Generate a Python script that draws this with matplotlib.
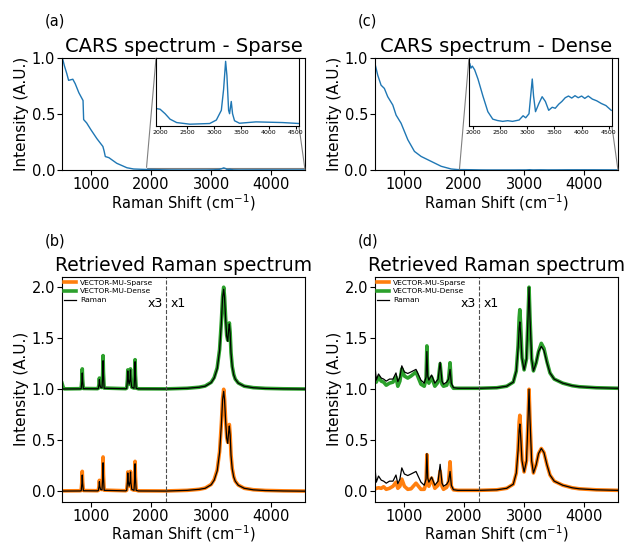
import numpy as np
import matplotlib
matplotlib.use("Agg")
import matplotlib.pyplot as plt
from mpl_toolkits.axes_grid1.inset_locator import mark_inset

# CARS spectrum, sparse sample (a)
cars_sparse_x = [527, 560, 600, 630, 700, 740, 800, 850, 870, 880, 930, 1000, 1100, 1200,
                 1220, 1240, 1300, 1430, 1600, 1711, 1850, 1927, 2000, 2092, 2183, 2305,
                 2549, 2915, 3037, 3129, 3171, 3208, 3232, 3263, 3281, 3312, 3336, 3372,
                 3464, 3769, 4256, 4560]
cars_sparse_y = [1.0, 0.93, 0.86, 0.80, 0.81, 0.77, 0.69, 0.64, 0.62, 0.45, 0.42, 0.36, 0.28, 0.21,
                 0.17, 0.12, 0.11, 0.06, 0.02, 0.009, 0.0062, 0.00512, 0.00492, 0.0036, 0.002, 0.001,
                 0.00052, 0.00072, 0.00174, 0.0046, 0.0108, 0.019, 0.0148, 0.0046, 0.0036, 0.0072,
                 0.0036, 0.00154, 0.0008, 0.0012, 0.001, 0.00072]

# CARS spectrum, dense sample (c)
cars_dense_x = [527, 567, 622, 677, 733, 817, 872, 955, 1067, 1177, 1288, 1455, 1622, 1788,
                1900, 1940, 1960, 1987, 2030, 2091, 2182, 2273, 2364, 2450, 2546, 2640, 2728,
                2850, 2923, 2971, 3032, 3092, 3116, 3152, 3214, 3274, 3334, 3395, 3460, 3516,
                3580, 3638, 3700, 3760, 3820, 3880, 3940, 4002, 4060, 4124, 4200, 4280, 4366,
                4450, 4548]
cars_dense_y = [0.935, 0.846, 0.757, 0.728, 0.654, 0.58, 0.49, 0.417, 0.27, 0.166, 0.121, 0.077,
                0.033, 0.009, 0.0036, 0.00368, 0.0034, 0.00352, 0.0033, 0.00276, 0.00176, 0.00084,
                0.0004, 0.00032, 0.00027, 0.00031, 0.00027, 0.00035, 0.0006, 0.00048, 0.00072,
                0.00276, 0.00176, 0.00084, 0.00132, 0.00172, 0.00144, 0.00092, 0.0011, 0.00104,
                0.00128, 0.00144, 0.00166, 0.00176, 0.00164, 0.00178, 0.00166, 0.00176, 0.00162,
                0.00176, 0.00158, 0.00148, 0.00132, 0.0012, 0.00092]

# retrieved Raman, sparse sample (b); values left of split_x already shown x3
ret_b_x = [520, 540, 560, 820, 839, 851, 857, 863, 875, 1110, 1124, 1136, 1142, 1148, 1160,
           1185, 1197, 1203, 1209, 1221, 1580, 1596, 1608, 1614, 1620, 1636, 1653, 1659, 1665,
           1680, 1717, 1729, 1735, 1741, 1753, 1790, 2250, 2600, 2800, 2900, 3000, 3050, 3100,
           3140, 3170, 3190, 3208, 3222, 3240, 3258, 3275, 3290, 3302, 3315, 3330, 3350, 3375,
           3400, 3450, 3550, 3700, 3900, 4200, 4560]
raman_b = [0.003, 0.003, 0.003, 0.004, 0.006, 0.08, 0.16, 0.08, 0.006, 0.005, 0.008, 0.048, 0.095,
           0.05, 0.02, 0.015, 0.14, 0.28, 0.14, 0.01, 0.005, 0.01, 0.09, 0.18, 0.1, 0.05, 0.1, 0.19,
           0.09, 0.02, 0.01, 0.135, 0.27, 0.135, 0.01, 0.004, 0.003, 0.01, 0.02, 0.03, 0.065, 0.11,
           0.2, 0.38, 0.66, 0.9, 0.98, 0.9, 0.69, 0.52, 0.47, 0.58, 0.64, 0.55, 0.35, 0.22, 0.14,
           0.1, 0.06, 0.03, 0.015, 0.008, 0.004, 0.002]
sparse_b = [0.005, 0.005, 0.005, 0.006, 0.008, 0.1, 0.196, 0.1, 0.008, 0.006, 0.01, 0.055, 0.108,
            0.055, 0.02, 0.018, 0.17, 0.337, 0.17, 0.012, 0.006, 0.012, 0.095, 0.19, 0.1, 0.05, 0.1,
            0.196, 0.1, 0.02, 0.012, 0.15, 0.294, 0.15, 0.012, 0.005, 0.004, 0.01, 0.02, 0.032,
            0.068, 0.115, 0.21, 0.39, 0.67, 0.91, 1.0, 0.91, 0.7, 0.53, 0.48, 0.59, 0.655, 0.56,
            0.36, 0.225, 0.145, 0.1, 0.062, 0.03, 0.016, 0.009, 0.005, 0.003]
dense_b = [0.06, 0.02, 0.004, 0.006, 0.008, 0.1, 0.2, 0.1, 0.008, 0.006, 0.01, 0.055, 0.11,
           0.055, 0.02, 0.018, 0.165, 0.33, 0.165, 0.012, 0.006, 0.012, 0.095, 0.19, 0.1, 0.05, 0.1,
           0.2, 0.1, 0.02, 0.012, 0.145, 0.29, 0.145, 0.012, 0.005, 0.004, 0.01, 0.02, 0.032,
           0.068, 0.115, 0.21, 0.39, 0.67, 0.91, 1.0, 0.91, 0.7, 0.53, 0.48, 0.59, 0.65, 0.56,
           0.36, 0.225, 0.145, 0.1, 0.062, 0.03, 0.016, 0.009, 0.005, 0.003]

# retrieved Raman, dense sample (d)
ret_d_x = [515, 543, 580, 625, 665, 708, 762, 820, 870, 901, 935, 967, 1010, 1066, 1120, 1203,
           1285, 1340, 1370, 1384, 1398, 1417, 1462, 1516, 1570, 1604, 1635, 1660, 1714, 1745,
           1769, 1790, 1825, 1900, 2250, 2545, 2710, 2820, 2870, 2900, 2918, 2929, 2942, 2965,
           3000, 3040, 3065, 3082, 3098, 3125, 3155, 3200, 3240, 3286, 3330, 3380, 3430, 3500,
           3642, 3800, 3917, 4200, 4560]
raman_d = [0.27, 0.09, 0.15, 0.11, 0.10, 0.08, 0.10, 0.10, 0.16, 0.075, 0.12, 0.23, 0.17, 0.155,
           0.17, 0.195, 0.09, 0.06, 0.12, 0.37, 0.13, 0.09, 0.14, 0.06, 0.10, 0.265, 0.08, 0.05,
           0.07, 0.10, 0.195, 0.06, 0.016, 0.01, 0.01, 0.015, 0.03, 0.07, 0.18, 0.40, 0.60, 0.66,
           0.55, 0.30, 0.19, 0.30, 0.70, 1.0, 0.70, 0.30, 0.18, 0.26, 0.37, 0.42, 0.38, 0.26,
           0.16, 0.10, 0.06, 0.035, 0.025, 0.015, 0.01]
sparse_d = [0.02, 0.03, 0.035, 0.03, 0.045, 0.02, 0.03, 0.05, 0.09, 0.03, 0.05, 0.12, 0.05, 0.02,
            0.025, 0.08, 0.02, 0.02, 0.08, 0.36, 0.10, 0.05, 0.13, 0.03, 0.06, 0.20, 0.05, 0.02,
            0.04, 0.10, 0.29, 0.05, 0.015, 0.01, 0.01, 0.015, 0.03, 0.07, 0.18, 0.42, 0.68, 0.745,
            0.62, 0.31, 0.19, 0.30, 0.70, 1.0, 0.70, 0.30, 0.18, 0.26, 0.37, 0.42, 0.38, 0.26,
            0.16, 0.10, 0.06, 0.035, 0.025, 0.015, 0.01]
dense_d = [0.12, 0.07, 0.12, 0.08, 0.07, 0.04, 0.06, 0.07, 0.12, 0.03, 0.08, 0.20, 0.13, 0.11,
           0.13, 0.17, 0.05, 0.03, 0.10, 0.425, 0.10, 0.06, 0.12, 0.03, 0.07, 0.25, 0.05, 0.03,
           0.04, 0.10, 0.26, 0.04, 0.01, 0.01, 0.01, 0.015, 0.03, 0.07, 0.18, 0.43, 0.70, 0.78,
           0.64, 0.31, 0.19, 0.30, 0.70, 1.0, 0.70, 0.30, 0.18, 0.26, 0.37, 0.45, 0.40, 0.27,
           0.16, 0.10, 0.06, 0.035, 0.025, 0.015, 0.01]

split_x = 2250
xlims = (520, 4560)
inset_xlims = (1925, 4560)
inset_ticks = [2000, 2500, 3000, 3500, 4000, 4500]

blue = '#1f77b4'
orange = '#ff7f0e'
green = '#2ca02c'
xlab = r'Raman Shift (cm$^{-1}$)'
ylab = 'Intensity (A.U.)'


def style_axes(ax, title, tsize):
    ax.set_xlim(*xlims)
    ax.set_title(title, fontsize=tsize, pad=4)
    ax.set_xlabel(xlab, fontsize=10.5, labelpad=0)
    ax.set_ylabel(ylab, fontsize=11, labelpad=2)
    ax.tick_params(labelsize=10.5, pad=1.5)


def cars_panel(ax, x, y, title, ins_ylim):
    ax.plot(x, y, color=blue, lw=1)
    ax.set_ylim(0, 1)
    ax.set_yticks([0, 0.5, 1.0])
    style_axes(ax, title, 14)
    ins = ax.inset_axes([0.387, 0.393, 0.588, 0.607])
    ins.plot(x, y, color=blue, lw=1)
    ins.set_xlim(*inset_xlims)
    ins.set_ylim(*ins_ylim)
    ins.set_yticks([])
    ins.set_xticks(inset_ticks)
    ins.tick_params(labelsize=4.5, length=2, pad=1)
    mark_inset(ax, ins, loc1=2, loc2=4, fc='none', ec='0.5', lw=0.8)


def raman_panel(ax, x, raman, sparse, dense):
    ax.plot(x, sparse, color=orange, lw=2.6, label='VECTOR-MU-Sparse')
    ax.plot(x, np.array(dense) + 1, color=green, lw=2.6, label='VECTOR-MU-Dense')
    ax.plot(x, raman, color='k', lw=0.9, label='Raman')
    ax.plot(x, np.array(raman) + 1, color='k', lw=0.9)
    ax.axvline(split_x, color='0.3', ls='--', lw=0.8)
    ax.text(split_x - 50, 1.84, 'x3', ha='right', va='center', fontsize=9)
    ax.text(split_x + 70, 1.84, 'x1', ha='left', va='center', fontsize=9)
    ax.set_ylim(-0.1, 2.1)
    ax.set_yticks([0, 0.5, 1.0, 1.5, 2.0])
    style_axes(ax, 'Retrieved Raman spectrum', 13.5)
    ax.legend(loc='upper left', frameon=False, fontsize=5.4, handlelength=1.6,
              borderaxespad=0.1, borderpad=0.2, labelspacing=0.35, handletextpad=0.5)


fig = plt.figure(figsize=(6.28, 5.44), dpi=100)
ax_a = fig.add_axes([0.0987, 0.6875, 0.387, 0.206])
ax_c = fig.add_axes([0.597, 0.6875, 0.387, 0.206])
ax_b = fig.add_axes([0.0987, 0.078, 0.387, 0.4128])
ax_d = fig.add_axes([0.597, 0.078, 0.387, 0.4128])

cars_panel(ax_a, cars_sparse_x, cars_sparse_y, 'CARS spectrum - Sparse', (0, 0.02))
cars_panel(ax_c, cars_dense_x, cars_dense_y, 'CARS spectrum - Dense', (0, 0.004))
raman_panel(ax_b, ret_b_x, raman_b, sparse_b, dense_b)
raman_panel(ax_d, ret_d_x, raman_d, sparse_d, dense_d)

fig.text(45 / 628, 1 - 21 / 544, '(a)', fontsize=10.5, va='center')
fig.text(358 / 628, 1 - 21 / 544, '(c)', fontsize=10.5, va='center')
fig.text(45 / 628, 1 - 241 / 544, '(b)', fontsize=10.5, va='center')
fig.text(358 / 628, 1 - 241 / 544, '(d)', fontsize=10.5, va='center')

fig.savefig('out.png', dpi=100)
